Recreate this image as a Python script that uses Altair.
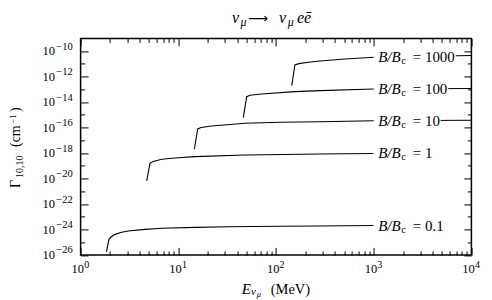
import altair as alt
import pandas as pd

# ---------------- data ----------------
B_values = ["0.1", "1", "10", "100", "1000"]

E_01 = [1.84, 1.95, 2.05, 2.25, 2.63, 3.08, 4.56, 6.76, 14.8, 32.3, 110, 282, 1000]
G_01 = [1.74e-26, 1.70e-25, 2.57e-25, 4.17e-25, 6.03e-25, 7.59e-25, 1.02e-24,
        1.26e-24, 1.48e-24, 1.66e-24, 1.82e-24, 1.91e-24, 2.04e-24]

E_1 = [4.75, 5.13, 5.51, 6.77, 9.25, 14.8, 48.2, 282, 1000]
G_1 = [6.46e-21, 1.58e-19, 2.19e-19, 3.24e-19, 4.07e-19, 5.25e-19, 7.08e-19,
       8.51e-19, 9.33e-19]

E_10 = [14.6, 15.8, 17.1, 22.0, 48.2, 110, 282, 1000, 10000]
G_10 = [2.00e-18, 7.76e-17, 1.02e-16, 1.35e-16, 2.19e-16, 2.63e-16, 2.88e-16,
        3.47e-16, 3.80e-16]

E_100 = [46.3, 50.1, 54.2, 71.4, 156, 282, 1000, 10000]
G_100 = [6.03e-16, 2.69e-14, 3.47e-14, 4.37e-14, 6.61e-14, 7.94e-14, 1.07e-13,
         1.17e-13]

E_1000 = [145, 156, 172, 214, 282, 508, 1000, 10000]
G_1000 = [1.95e-13, 8.13e-12, 1.05e-11, 1.35e-11, 1.70e-11, 2.45e-11, 3.31e-11,
          4.57e-11]

LABEL_E = 1000  # energy at which the curve labels sit

x_major = [1, 10, 100, 1000, 10000]
x_major_exp = ["0", "1", "2", "3", "4"]
x_minor = [k * 10 ** d for d in range(4) for k in range(2, 10)]

y_major = [1e-26, 1e-24, 1e-22, 1e-20, 1e-18, 1e-16, 1e-14, 1e-12, 1e-10]
y_major_exp = ["−26", "−24", "−22", "−20", "−18", "−16", "−14", "−12", "−10"]
y_minor = [1e-25, 1e-23, 1e-21, 1e-19, 1e-17, 1e-15, 1e-13, 1e-11]

# ---------------- tables ----------------
series = {"0.1": (E_01, G_01), "1": (E_1, G_1), "10": (E_10, G_10),
          "100": (E_100, G_100), "1000": (E_1000, G_1000)}
rows = []
for name, (es, gs) in series.items():
    for i, (e, g) in enumerate(zip(es, gs)):
        rows.append({"series": name, "E": e, "G": g, "i": i})
df = pd.DataFrame(rows)

lab_rows = []
for name in B_values:
    es, gs = series[name]
    lab_rows.append({"val": name, "E": LABEL_E, "G": gs[es.index(LABEL_E)]})
lab_df = pd.DataFrame(lab_rows)

xt_df = pd.DataFrame({"E": x_major, "exp": x_major_exp})
yt_df = pd.DataFrame({"G": y_major, "exp": y_major_exp})
one = pd.DataFrame({"k": [0]})

# ---------------- layout / style ----------------
W, H = 390.8, 216.6
SERIF = "'Liberation Serif', 'DejaVu Serif', serif"
xs = alt.Scale(type="log", domain=[1, 10000], nice=False)
ys = alt.Scale(type="log", domain=[1e-26, 1e-9], nice=False)
xpos = alt.X("E:Q", scale=xs, axis=None)
ypos = alt.Y("G:Q", scale=ys, axis=None)

lines = alt.Chart(df).mark_line(color="black", strokeWidth=1.1, clip=True).encode(
    x=xpos, y=ypos, detail="series:N", order="i:Q")


def tick_layer(xorient, yorient, xvals, yvals, size):
    return alt.Chart(df).mark_line(opacity=0).encode(
        x=alt.X("E:Q", scale=xs, axis=alt.Axis(
            orient=xorient, offset=-H, values=xvals, tickSize=size, labels=False,
            domain=False, grid=False, title=None, tickColor="black", tickWidth=1)),
        y=alt.Y("G:Q", scale=ys, axis=alt.Axis(
            orient=yorient, offset=-W, values=yvals, tickSize=size, labels=False,
            domain=False, grid=False, title=None, tickColor="black", tickWidth=1)),
        detail="series:N",
    )


ticks = [
    tick_layer("top", "right", x_major, y_major, 7.5),
    tick_layer("top", "right", x_minor, y_minor, 4),
    tick_layer("bottom", "left", x_major, y_major, 7.5),
    tick_layer("bottom", "left", x_minor, y_minor, 4),
]

# tick labels: "10" with a raised exponent
txt = dict(font=SERIF, color="black")
x_base = alt.Chart(xt_df).mark_text(text="10", align="center", baseline="middle", dx=-2.8,
                                    fontSize=12.5, **txt).encode(x=xpos, y=alt.value(H + 14.5))
x_exp = alt.Chart(xt_df).mark_text(align="left", baseline="middle", dx=3.6,
                                   fontSize=10, **txt).encode(
    x=xpos, y=alt.value(H + 10), text="exp:N")
y_base = alt.Chart(yt_df).mark_text(text="10", align="right", baseline="middle",
                                    fontSize=12.5, **txt).encode(x=alt.value(-25.6), y=ypos)
y_exp = alt.Chart(yt_df).mark_text(align="right", baseline="middle", dy=-4.5,
                                   fontSize=10.5, **txt).encode(
    x=alt.value(-7.9), y=ypos, text="exp:N")

# curve labels with white boxes behind them
boxes = alt.Chart(lab_df).transform_calculate(
    bs="pow(52 + 7.5*length(datum.val), 2)"
).mark_point(shape="M0,-0.13H2V0.13H0Z", filled=True, fill="white", opacity=1,
             strokeWidth=0).encode(x=xpos, y=ypos, size=alt.Size("bs:Q", scale=None))

lab_style = dict(align="left", baseline="middle", font=SERIF, color="black")
lab1 = alt.Chart(lab_df).mark_text(text="B/B", dx=4.5, fontSize=15, fontStyle="italic",
                                   **lab_style).encode(x=xpos, y=ypos)
lab2 = alt.Chart(lab_df).mark_text(text="c", dx=27.5, dy=4, fontSize=10.5,
                                   **lab_style).encode(x=xpos, y=ypos)
lab3 = alt.Chart(lab_df).transform_calculate(t="'= ' + datum.val").mark_text(
    dx=39, fontSize=15, **lab_style).encode(x=xpos, y=ypos, text="t:N")


def piece(text, x, y, size, italic=True, angle=0, font=SERIF):
    kw = dict(text=text, align="left", baseline="alphabetic", font=font, fontSize=size,
              color="black")
    if italic:
        kw["fontStyle"] = "italic"
    if angle:
        kw["angle"] = angle
    return alt.Chart(one).mark_text(**kw).encode(x=alt.value(x), y=alt.value(y))


title_pieces = [
    piece("ν", 151.4, -15.9, 16),
    piece("μ", 160.0, -12.0, 12),
    piece("⟶", 167.5, -15.9, 14, italic=False, font="'DejaVu Sans', sans-serif"),
    piece("ν", 198.4, -15.9, 16),
    piece("μ", 207.2, -12.0, 12),
    piece("eē", 216.4, -15.9, 16),
]
xtitle_pieces = [
    piece("E", 161.1, 255.6, 15),
    piece("ν", 170.4, 256.6, 11),
    piece("μ", 176.2, 258.6, 8.5),
    piece("(MeV)", 190.1, 255.6, 14.5, italic=False),
]
ytitle_pieces = [
    piece("Γ", -60.6, 149.6, 14, italic=False, angle=270),
    piece("10,10", -57.6, 139.6, 10, italic=False, angle=270),
    piece("(cm", -60.6, 108.6, 14, italic=False, angle=270),
    piece("−1", -64.1, 85.6, 9, italic=False, angle=270),
    piece(")", -60.6, 73.6, 14, italic=False, angle=270),
]

chart = alt.layer(
    lines, *ticks, boxes, lab1, lab2, lab3, x_base, x_exp, y_base, y_exp,
    *title_pieces, *xtitle_pieces, *ytitle_pieces
).resolve_axis(x="independent", y="independent").properties(
    width=W, height=H,
    autosize=alt.AutoSizeParams(type="none"),
    padding={"left": 72.6, "top": 30.4, "right": 12, "bottom": 45},
    background="white",
).configure_view(stroke="black", strokeWidth=1.5)

chart.save("out.html", embed_options={"renderer": "svg", "actions": False})
